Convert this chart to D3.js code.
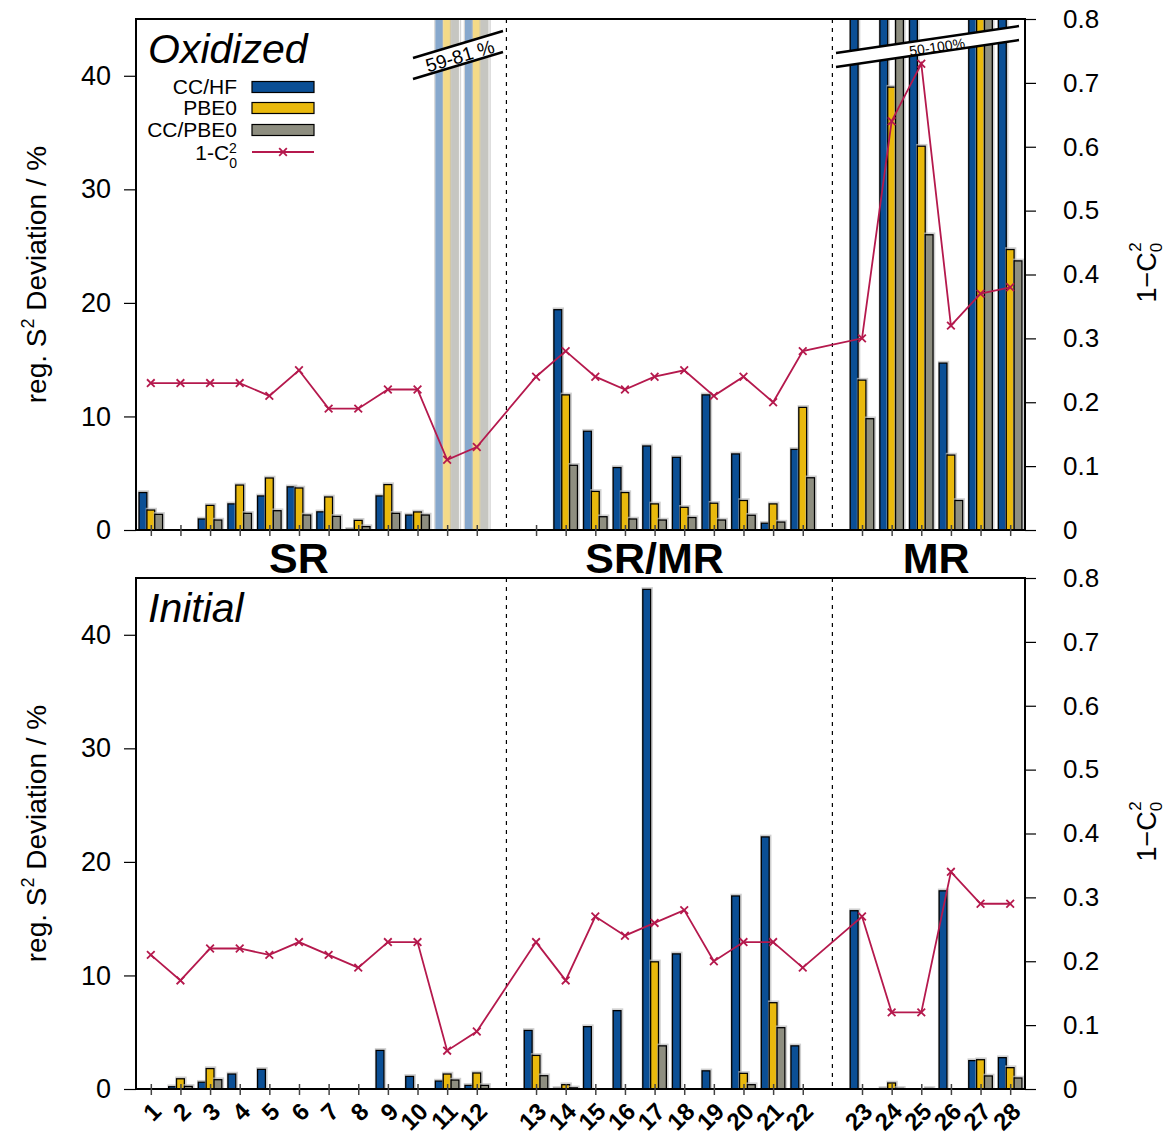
<!DOCTYPE html>
<html>
  <meta charset="utf-8" />
  <head>
    <script src="https://cdnjs.cloudflare.com/ajax/libs/d3/7.8.5/d3.min.js"></script>
    <style>
      body { margin: 0; background: #fff; }
      text { font-family: "Liberation Sans", Arial, sans-serif; }
    </style>
  </head>
  <body>
    <script>
    // categories (molecule numbers) and the section they belong to
    const labels = d3.range(1, 29).map(String);
    const sections = ["SR", "SR/MR", "MR"];

    // oxidized panel, deviation in %
    const oxCCHF   = [3.3, 0, 0.97, 2.3, 3.0, 3.8, 1.6, 0.06, 3.0, 1.32, 81, 75, 0, 19.4, 8.7, 5.5, 7.4, 6.4, 11.9, 6.7, 0.6, 7.1, 52, 70, 60, 14.7, 100, 80];
    const oxPBE0   = [1.76, 0, 2.17, 3.96, 4.58, 3.7, 2.91, 0.85, 4.0, 1.59, 70, 62, 0, 11.9, 3.4, 3.3, 2.3, 2.0, 2.36, 2.6, 2.3, 10.8, 13.2, 39.0, 33.8, 6.6, 95, 24.7];
    const oxCCPBE0 = [1.38, 0, 0.88, 1.47, 1.7, 1.32, 1.2, 0.3, 1.47, 1.32, 65, 59, 0, 5.7, 1.17, 0.97, 0.88, 1.1, 0.88, 1.3, 0.7, 4.6, 9.8, 55, 26.0, 2.6, 90, 23.7];
    const oxC0     = [0.23, 0.23, 0.23, 0.23, 0.21, 0.25, 0.19, 0.19, 0.22, 0.22, 0.11, 0.13, 0.24, 0.28, 0.24, 0.22, 0.24, 0.25, 0.21, 0.24, 0.20, 0.28, 0.30, 0.64, 0.73, 0.32, 0.37, 0.38];
    const oxFaded  = ["11", "12"];

    // initial panel
    const inCCHF   = [0, 0.2, 0.6, 1.32, 1.73, 0, 0, 0, 3.4, 1.11, 0.7, 0.32, 5.16, 0.05, 5.49, 6.9, 44.0, 11.9, 1.6, 17.0, 22.2, 3.8, 15.7, 0.05, 0, 17.45, 2.5, 2.76];
    const inPBE0   = [0, 0.9, 1.8, 0, 0, 0, 0, 0, 0, 0, 1.32, 1.41, 2.96, 0.38, 0, 0, 11.2, 0, 0, 1.38, 7.6, 0, 0, 0.53, 0, 0, 2.58, 1.88];
    const inCCPBE0 = [0, 0.23, 0.82, 0, 0, 0, 0, 0, 0, 0, 0.79, 0.32, 1.17, 0.1, 0, 0, 3.8, 0, 0, 0.38, 5.4, 0, 0, 0.05, 0.05, 0, 1.15, 0.97];
    const inC0     = [0.21, 0.17, 0.22, 0.22, 0.21, 0.23, 0.21, 0.19, 0.23, 0.23, 0.06, 0.09, 0.23, 0.17, 0.27, 0.24, 0.26, 0.28, 0.20, 0.23, 0.23, 0.19, 0.27, 0.12, 0.12, 0.34, 0.29, 0.29];

    const leftTicks = [0, 10, 20, 30, 40];
    const rightTicks = [0, 0.1, 0.2, 0.3, 0.4, 0.5, 0.6, 0.7, 0.8];

    const seriesNames = ["CC/HF", "PBE0", "CC/PBE0"];
    const colors = ["#0b4f95", "#e9b90d", "#8e8e80"];
    const faded = ["#87a8cd", "#f4da88", "#c6c6c1"];
    const lineColor = "#b5194d";

    const width = 1166, height = 1137;
    const svg = d3.select("body").append("svg")
        .attr("width", width).attr("height", height);

    // slot index: an empty slot between the sections
    const slot = (i) => (i < 12 ? i : i < 22 ? i + 1 : i + 2);
    const x = d3.scaleLinear().domain([-0.5, 29.5]).range([136, 1025]);
    const bw = 0.265;

    function panel(top, bottom, title, bars, c0, opts) {
        const y = d3.scaleLinear().domain([0, 45]).range([bottom, top]);
        const y2 = d3.scaleLinear().domain([0, 0.8]).range([bottom, top]);
        const g = svg.append("g");
        const clipId = "clip" + top;
        svg.append("clipPath").attr("id", clipId)
            .append("rect").attr("x", x(-0.5)).attr("y", top)
            .attr("width", x(29.5) - x(-0.5)).attr("height", bottom - top);
        const pg = g.append("g").attr("clip-path", `url(#${clipId})`);

        // dashed separators
        [12, 23].forEach((s) => {
            pg.append("line").attr("x1", x(s)).attr("x2", x(s))
                .attr("y1", top).attr("y2", bottom)
                .attr("stroke", "#000").attr("stroke-width", 1.2)
                .attr("stroke-dasharray", "4,5");
        });

        // bars
        bars.forEach((vals, k) => {
            vals.forEach((v, i) => {
                if (!v) return;
                const cx = slot(i) + (k - 1) * bw;
                const isFaded = opts.faded && opts.faded.includes(labels[i]);
                const x0 = x(cx - bw / 2), w = x(cx + bw / 2) - x(cx - bw / 2);
                const yt = y(v);
                // soft shadow
                pg.append("rect").attr("x", x0 - 0.5).attr("y", yt - 1.5)
                    .attr("width", w + 2).attr("height", bottom - yt + 1.5)
                    .attr("fill", "none").attr("stroke", "#bbb").attr("stroke-width", 1.5)
                    .attr("opacity", isFaded ? 0.6 : 0.7);
                pg.append("rect").attr("x", x0).attr("y", yt)
                    .attr("width", w).attr("height", bottom - yt)
                    .attr("fill", isFaded ? faded[k] : colors[k])
                    .attr("stroke", isFaded ? "none" : "#000")
                    .attr("stroke-width", 1.3);
            });
        });

        // break marks
        (opts.breaks || []).forEach((b) => {
            const [x1, y1, x2, y2b, gap] = [b.x1, b.y1, b.x2, b.y2, b.gap];
            pg.append("path")
                .attr("d", `M${x1},${y1}L${x2},${y2b}L${x2},${y2b + gap}L${x1},${y1 + gap}Z`)
                .attr("fill", "#fff");
            [0, gap].forEach((o) => {
                pg.append("line").attr("x1", x1).attr("y1", y1 + o)
                    .attr("x2", x2).attr("y2", y2b + o)
                    .attr("stroke", "#000").attr("stroke-width", 2.5);
            });
            const ang = Math.atan2(y2b - y1, x2 - x1) * 180 / Math.PI;
            pg.append("text")
                .attr("transform", `translate(${b.tx},${b.ty}) rotate(${ang})`)
                .attr("text-anchor", "middle").attr("dy", "0.35em")
                .attr("font-size", b.fs).text(b.text);
        });

        // 1-C0^2 line
        const line = d3.line().x((d, i) => x(slot(i))).y((d) => y2(d));
        pg.append("path").datum(c0).attr("d", line)
            .attr("fill", "none").attr("stroke", lineColor).attr("stroke-width", 1.8);
        const sym = d3.symbol().type(d3.symbolX).size(40);
        pg.selectAll(".mk" + top).data(c0).enter().append("path")
            .attr("transform", (d, i) => `translate(${x(slot(i))},${y2(d)})`)
            .attr("d", sym).attr("fill", "none")
            .attr("stroke", lineColor).attr("stroke-width", 1.8);

        // frame
        g.append("rect").attr("x", x(-0.5)).attr("y", top)
            .attr("width", x(29.5) - x(-0.5)).attr("height", bottom - top)
            .attr("fill", "none").attr("stroke", "#000").attr("stroke-width", 2);

        // x ticks crossing the baseline
        const xa = g.append("g").attr("transform", `translate(0,${bottom})`)
            .call(d3.axisBottom(x).tickValues(labels.map((l, i) => slot(i))).tickSize(6).tickFormat(""));
        xa.select(".domain").remove();
        xa.selectAll(".tick line").attr("y1", -5).attr("stroke", "#444").attr("stroke-width", 1.5);

        // left axis
        const la = g.append("g").attr("transform", `translate(${x(-0.5)},0)`)
            .call(d3.axisLeft(y).tickValues(leftTicks).tickSize(12).tickPadding(13));
        la.select(".domain").remove();
        la.selectAll(".tick line").attr("stroke-width", 1.2);
        la.selectAll("text").attr("font-size", 27).attr("font-family", "Liberation Sans, Arial");

        // right axis
        const ra = g.append("g").attr("transform", `translate(${x(29.5)},0)`)
            .call(d3.axisRight(y2).tickValues(rightTicks).tickSize(11).tickPadding(27)
                .tickFormat((d) => (d === 0 ? "0" : d3.format(".1f")(d))));
        ra.select(".domain").remove();
        ra.selectAll(".tick line").attr("stroke-width", 1.2);
        ra.selectAll("text").attr("font-size", 26).attr("font-family", "Liberation Sans, Arial");

        const mid = (top + bottom) / 2;
        const yl = svg.append("text")
            .attr("transform", `translate(46,${mid}) rotate(-90)`)
            .attr("text-anchor", "middle").attr("font-size", 28);
        yl.append("tspan").text("reg. S");
        yl.append("tspan").attr("font-size", 18).attr("dy", -12).text("2");
        yl.append("tspan").attr("dy", 12).text(" Deviation / %");

        const rl = svg.append("text")
            .attr("transform", `translate(1156,${mid - 2}) rotate(-90)`)
            .attr("text-anchor", "middle").attr("font-size", 27);
        rl.append("tspan").text("1\u2212C");
        rl.append("tspan").attr("font-size", 17).attr("dy", 6).text("0");
        rl.append("tspan").attr("font-size", 17).attr("dx", -9).attr("dy", -21).text("2");

        svg.append("text").attr("x", 148).attr("y", top + 44)
            .attr("font-size", 41).attr("font-style", "italic").text(title);

        return { y, y2 };
    }

    panel(19, 530, "Oxidized", [oxCCHF, oxPBE0, oxCCPBE0], oxC0, {
        faded: oxFaded,
        breaks: [
            { x1: 413, y1: 58, x2: 503, y2: 31, gap: 21, tx: 460, ty: 56, fs: 19, text: "59-81 %" },
            { x1: 836, y1: 53, x2: 1019, y2: 26, gap: 14, tx: 937, ty: 47, fs: 14, text: "50-100%" },
        ],
    });
    panel(578, 1089, "Initial", [inCCHF, inPBE0, inCCPBE0], inC0, {});

    // section labels
    const secPos = [5, 17, 26.5];
    sections.forEach((s, i) => {
        svg.append("text").attr("x", x(secPos[i])).attr("y", 573)
            .attr("text-anchor", "middle").attr("font-size", 43)
            .attr("font-weight", "bold").text(s);
    });

    // x tick labels
    svg.append("g").selectAll("text").data(labels).enter().append("text")
        .attr("transform", (d, i) => `translate(${x(slot(i)) + 6},${1107}) rotate(-45)`)
        .attr("text-anchor", "end").attr("font-size", 24).attr("font-weight", "bold")
        .attr("dy", "0.35em").text((d) => d);

    // legend
    const lg = svg.append("g");
    const legY = [87, 108, 130];
    seriesNames.forEach((n, i) => {
        lg.append("text").attr("x", 237).attr("y", legY[i]).attr("dy", "0.35em")
            .attr("text-anchor", "end").attr("font-size", 21).text(n);
        lg.append("rect").attr("x", 252).attr("y", legY[i] - 5.5)
            .attr("width", 62).attr("height", 11)
            .attr("fill", colors[i]).attr("stroke", "#000").attr("stroke-width", 1.2);
    });
    const lt = lg.append("text").attr("x", 237).attr("y", 153).attr("dy", "0.35em")
        .attr("text-anchor", "end").attr("font-size", 21);
    lt.append("tspan").text("1-C");
    lt.append("tspan").attr("font-size", 14).attr("dy", 8).text("0");
    lt.append("tspan").attr("font-size", 14).attr("dx", -8).attr("dy", -15).text("2");
    lg.append("line").attr("x1", 252).attr("x2", 314).attr("y1", 152).attr("y2", 152)
        .attr("stroke", lineColor).attr("stroke-width", 1.8);
    lg.append("path").attr("transform", "translate(283,152)")
        .attr("d", d3.symbol().type(d3.symbolX).size(40)).attr("fill", "none")
        .attr("stroke", lineColor).attr("stroke-width", 1.8);
    </script>
  </body>
</html>
